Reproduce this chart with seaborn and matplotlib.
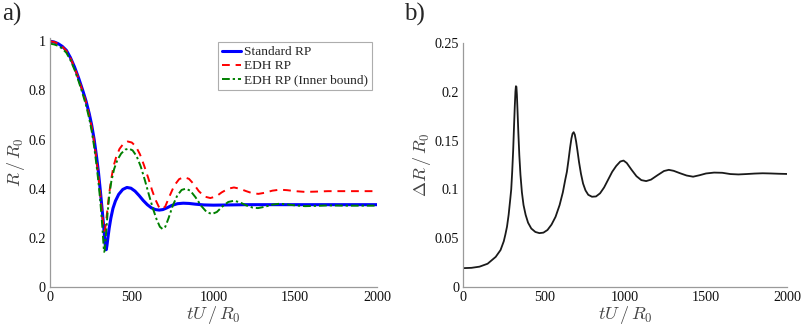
import numpy as np
import pandas as pd
import matplotlib
matplotlib.use("Agg")
import matplotlib.pyplot as plt
import seaborn as sns

# ---------------- data ----------------
t_std = [0, 25, 50, 75, 100, 125, 150, 175, 200, 220, 240, 255, 270, 285, 297, 308, 318, 327,
         334, 338, 341, 344, 348, 354, 362, 372, 385, 400, 420, 445, 470, 495, 520, 545, 570,
         595, 620, 645, 668, 690, 715, 745, 780, 815, 850, 890, 940, 1000, 1100, 1200, 1400,
         1600, 1800, 2000]
r_std = [1.0, 0.997, 0.99, 0.979, 0.963, 0.933, 0.895, 0.85, 0.80, 0.757, 0.705, 0.658, 0.60,
         0.528, 0.462, 0.39, 0.32, 0.255, 0.20, 0.168, 0.152, 0.152, 0.168, 0.20, 0.24, 0.28,
         0.32, 0.35, 0.377, 0.397, 0.405, 0.402, 0.39, 0.372, 0.352, 0.335, 0.322, 0.315, 0.313,
         0.315, 0.322, 0.332, 0.339, 0.341, 0.34, 0.337, 0.334, 0.333, 0.334, 0.335, 0.335,
         0.335, 0.335, 0.335]

t_edh = [0, 25, 50, 75, 100, 125, 150, 175, 200, 220, 240, 255, 270, 285, 297, 308, 317, 324,
         329, 333, 337, 343, 350, 360, 372, 388, 405, 425, 450, 475, 500, 525, 550, 575, 600,
         625, 645, 665, 685, 705, 730, 760, 790, 820, 850, 880, 910, 945, 980, 1015, 1050, 1090,
         1125, 1160, 1200, 1240, 1275, 1310, 1360, 1405, 1450, 1500, 1560, 1620, 1700, 1800,
         1900, 2000]
r_edh = [1.0, 0.997, 0.99, 0.978, 0.961, 0.931, 0.892, 0.846, 0.795, 0.752, 0.698, 0.651, 0.59,
         0.515, 0.447, 0.375, 0.31, 0.262, 0.235, 0.228, 0.235, 0.265, 0.31, 0.37, 0.43, 0.49,
         0.53, 0.562, 0.584, 0.592, 0.588, 0.572, 0.54, 0.495, 0.445, 0.392, 0.355, 0.327, 0.316,
         0.328, 0.368, 0.413, 0.439, 0.447, 0.44, 0.418, 0.39, 0.368, 0.362, 0.368, 0.385, 0.40,
         0.405, 0.40, 0.39, 0.381, 0.379, 0.383, 0.392, 0.396, 0.394, 0.39, 0.387, 0.388, 0.39,
         0.39, 0.39, 0.39]

t_inner = [0, 25, 50, 75, 100, 125, 150, 175, 200, 220, 240, 255, 270, 285, 297, 308, 316, 322,
           326, 329, 331, 334, 338, 344, 352, 362, 375, 392, 412, 435, 460, 482, 505, 530, 555,
           580, 605, 630, 652, 672, 688, 705, 725, 750, 778, 805, 830, 858, 890, 925, 958, 990,
           1020, 1055, 1090, 1125, 1160, 1200, 1240, 1272, 1310, 1360, 1405, 1450, 1500, 1560,
           1620, 1700, 1800, 1900, 2000]
r_inner = [0.99, 0.987, 0.981, 0.97, 0.953, 0.923, 0.884, 0.837, 0.785, 0.74, 0.685, 0.634,
           0.57, 0.493, 0.422, 0.345, 0.28, 0.225, 0.185, 0.155, 0.143, 0.148, 0.175, 0.23, 0.30,
           0.37, 0.43, 0.48, 0.517, 0.543, 0.559, 0.563, 0.556, 0.532, 0.49, 0.435, 0.375, 0.318,
           0.275, 0.245, 0.236, 0.245, 0.28, 0.33, 0.372, 0.395, 0.40, 0.392, 0.365, 0.33, 0.305,
           0.297, 0.305, 0.328, 0.346, 0.351, 0.345, 0.332, 0.323, 0.321, 0.326, 0.335, 0.339,
           0.336, 0.332, 0.329, 0.33, 0.332, 0.331, 0.331, 0.331]

t_dr = [0, 50, 100, 150, 200, 230, 250, 260, 270, 280, 290, 296, 302, 308, 313, 318, 322, 325,
        328, 331, 335, 340, 346, 353, 362, 372, 385, 400, 420, 445, 470, 495, 520, 545, 570, 595,
        615, 630, 640, 650, 660, 668, 675, 682, 689, 697, 705, 715, 727, 740, 755, 772, 795, 820,
        845, 870, 895, 920, 945, 970, 990, 1010, 1040, 1070, 1100, 1130, 1160, 1200, 1240, 1270,
        1300, 1340, 1380, 1420, 1460, 1500, 1550, 1600, 1650, 1700, 1750, 1800, 1850, 1900, 1950,
        2000]
dr = [0.0195, 0.0198, 0.021, 0.024, 0.031, 0.038, 0.047, 0.054, 0.062, 0.074, 0.09, 0.10, 0.118,
      0.14, 0.163, 0.185, 0.20, 0.2055, 0.205, 0.197, 0.18, 0.158, 0.135, 0.115, 0.097, 0.084,
      0.074, 0.066, 0.06, 0.0565, 0.0553, 0.0558, 0.0585, 0.064, 0.072, 0.084, 0.097, 0.11,
      0.118, 0.13, 0.143, 0.152, 0.157, 0.1585, 0.156, 0.149, 0.14, 0.128, 0.116, 0.106, 0.099,
      0.0945, 0.0925, 0.0928, 0.096, 0.102, 0.11, 0.118, 0.124, 0.1285, 0.1295, 0.127, 0.12,
      0.1135, 0.1095, 0.1085, 0.11, 0.1145, 0.1188, 0.12, 0.119, 0.1165, 0.1142, 0.113, 0.1145,
      0.1163, 0.1172, 0.117, 0.1157, 0.1153, 0.1157, 0.1162, 0.1165, 0.1163, 0.116, 0.1158]

series_names = ["Standard RP", "EDH RP", "EDH RP (Inner bound)"]
xticks = [0, 500, 1000, 1500, 2000]
yticks_a = [0, 0.2, 0.4, 0.6, 0.8, 1]
yticks_b = [0, 0.05, 0.1, 0.15, 0.2, 0.25]

# ---------------- style ----------------
sns.set_style("white")
plt.rcParams["font.family"] = ["Liberation Serif", "DejaVu Serif"]
plt.rcParams["mathtext.fontset"] = "cm"

fig = plt.figure(figsize=(8.03, 3.26), dpi=100)
axa = fig.add_axes([0.0623, 0.1196, 0.4072, 0.763])
axb = fig.add_axes([0.577, 0.1190, 0.403, 0.750])

spine_col = "#9a9a9a"
lab_col = "#444444"

def style(ax):
    for s in ["top", "right"]:
        ax.spines[s].set_visible(False)
    for s in ["left", "bottom"]:
        ax.spines[s].set_color(spine_col)
        ax.spines[s].set_linewidth(0.9)
    ax.tick_params(direction="in", length=3, width=0.7, color=spine_col,
                   labelsize=10.2, labelcolor="#111111", pad=3)
    ax.grid(False)

# ---------------- panel a ----------------
df_std = pd.DataFrame({"t": t_std, "R": r_std})
df_edh = pd.DataFrame({"t": t_edh, "R": r_edh})
df_inn = pd.DataFrame({"t": t_inner, "R": r_inner})

sns.lineplot(data=df_std, x="t", y="R", ax=axa, color="#0000ff", lw=2.2,
             label=series_names[0], sort=True)
sns.lineplot(data=df_edh, x="t", y="R", ax=axa, color="#ff0000", lw=1.4,
             linestyle=(0, (4, 3)), label=series_names[1], sort=True)
sns.lineplot(data=df_inn, x="t", y="R", ax=axa, color="#008000", lw=1.4,
             linestyle=(0, (4, 1.5, 1.2, 1.5)), label=series_names[2], sort=True)

axa.set_xlim(0, 2000)
axa.set_ylim(0, 1.012)
axa.set_xticks(xticks)
axa.set_xticklabels([str(v) for v in xticks])
axa.set_yticks(yticks_a)
axa.set_yticklabels(["0", "0.2", "0.4", "0.6", "0.8", "1"])
style(axa)
axa.set_xlabel(r"$tU\,/\,R_0$", fontsize=13, color=lab_col, labelpad=0)
axa.set_ylabel(r"$R\,/\,R_0$", fontsize=13, color=lab_col, labelpad=1)
leg = axa.legend(loc="upper right", bbox_to_anchor=(0.985, 0.985), frameon=True,
                 fontsize=9.6, handlelength=1.45, handletextpad=0.2, borderpad=0.3,
                 labelspacing=0.12, fancybox=False, borderaxespad=0)
leg.get_frame().set_edgecolor("#999999")
leg.get_frame().set_linewidth(0.8)

# ---------------- panel b ----------------
df_dr = pd.DataFrame({"t": t_dr, "dR": dr})
sns.lineplot(data=df_dr, x="t", y="dR", ax=axb, color="#1a1a1a", lw=1.3, sort=True)
axb.set_xlim(0, 2000)
axb.set_ylim(0, 0.25)
axb.set_xticks(xticks)
axb.set_xticklabels([str(v) for v in xticks])
axb.set_yticks(yticks_b)
axb.set_yticklabels(["0", "0.05", "0.1", "0.15", "0.2", "0.25"])
style(axb)
axb.set_xlabel(r"$tU\,/\,R_0$", fontsize=13, color=lab_col, labelpad=0)
axb.set_ylabel(r"$\Delta R\,/\,R_0$", fontsize=13, color=lab_col, labelpad=1)

fig.text(0.003, 0.99, "a)", fontsize=18, va="top", ha="left")
fig.text(0.503, 0.99, "b)", fontsize=18, va="top", ha="left")

fig.savefig("out.png", dpi=100)
